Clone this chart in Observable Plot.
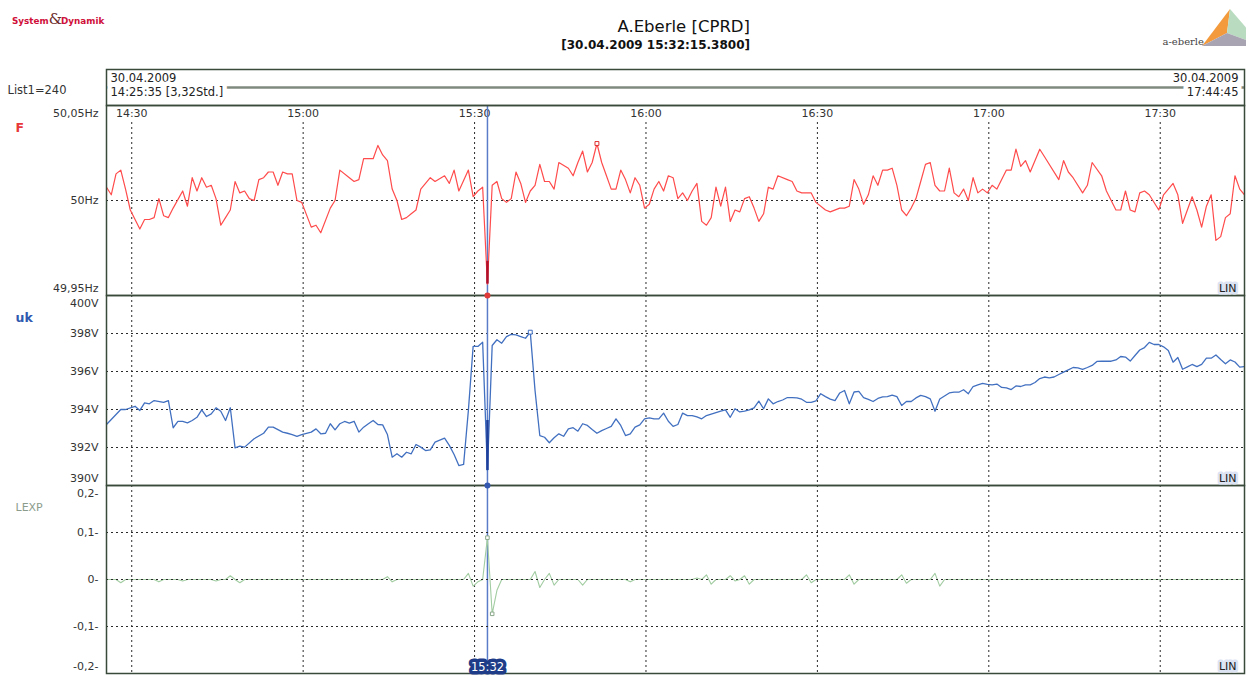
<!DOCTYPE html>
<html>
<head>
<meta charset="utf-8">
<script src="https://cdn.jsdelivr.net/npm/d3@7"></script>
<script src="https://cdn.jsdelivr.net/npm/@observablehq/plot@0.6"></script>
<style>
  body { margin: 0; background: #fff; font-family: "DejaVu Sans", sans-serif; }
  #page { position: relative; width: 1246px; height: 675px; overflow: hidden; background: #fff; }
  #brand { position: absolute; left: 12px; top: 10px; white-space: nowrap; font-weight: bold; font-size: 8.8px; color: #d0103a; }
  #brand .amp { font-family: "DejaVu Serif", serif; font-weight: normal; font-size: 15px; color: #6b2b2b; letter-spacing: -1px; }
  #title { position: absolute; right: 496px; top: 17px; font-size: 16.5px; color: #111; white-space: nowrap; }
  #stamp { position: absolute; right: 496px; top: 38px; font-size: 12px; font-weight: bold; color: #111; white-space: nowrap; }
  #logo { position: absolute; left: 1150px; top: 0; }
  #charts { position: absolute; left: 0; top: 69px; }
  #charts svg { display: block; position: relative; }
</style>
</head>
<body>
<div id="page">
  <div id="brand">System<span class="amp">&amp;</span>Dynamik</div>
  <div id="title"></div>
  <div id="stamp"></div>
  <svg id="logo" width="96" height="56">
    <text x="54" y="45" text-anchor="end" font-family="DejaVu Serif, serif" font-size="10" fill="#444">a-eberle</text>
    <polygon points="80,9 52,46 77,33" fill="#f39a3c"/>
    <polygon points="80,9 77,33 112,46" fill="#b9dcc0"/>
    <polygon points="52,46 77,33 112,46" fill="#a9a4b2"/>
  </svg>
  <div id="charts"></div>
</div>
<script>
// Recording: one sample every 50 s, 240 samples (List1)
const device = "A.Eberle [CPRD]";
const listName = "List1=240";
const recordStart = new Date("2009-04-30T14:25:35Z");
const sampleSeconds = 50;
const sampleCount = 240;
const cursorTime = new Date("2009-04-30T15:32:15.380Z");
const cursorStamp = "30.04.2009 15:32:15.3800";
const timeTicks = ["14:30", "15:00", "15:30", "16:00", "16:30", "17:00", "17:30"];

// F: frequency [Hz] per sample number
const freq = [[0,50.007],[1,50.003],[2,50.014],[3,50.016],[4,50.006],[5,49.995],[7,49.985],[8,49.990],[9,49.990],[10,49.991],[11,50.001],[12,49.992],[13,49.991],[14,49.996],[16,50.005],[17,49.997],[18,50.012],[19,50.005],[20,50.012],[21,50.007],[22,50.008],[23,50.001],[24,49.987],[25,49.991],[26,49.995],[27,50.010],[28,50.004],[29,50.005],[30,50.001],[31,50.000],[32,50.011],[33,50.012],[34,50.015],[35,50.015],[36,50.008],[37,50.015],[38,50.014],[39,50.014],[40,50.000],[41,49.999],[43,49.986],[44,49.987],[45,49.983],[47,49.996],[48,50.000],[49,50.016],[51,50.012],[52,50.010],[53,50.011],[54,50.022],[56,50.022],[57,50.029],[58,50.024],[59,50.021],[60,50.006],[61,50.000],[62,49.990],[63,49.991],[64,49.993],[65,49.995],[66,50.006],[68,50.012],[69,50.010],[71,50.013],[72,50.009],[73,50.016],[74,50.005],[76,50.016],[77,50.002],[78,50.005],[79,50.007],[80,49.956],[81,50.008],[82,50.010],[83,50.001],[84,49.999],[85,50.001],[86,50.015],[87,50.009],[88,49.999],[89,50.005],[90,50.008],[91,50.019],[92,50.010],[93,50.010],[94,50.006],[95,50.020],[97,50.017],[98,50.013],[99,50.020],[100,50.026],[101,50.015],[102,50.020],[103,50.030],[104,50.020],[105,50.013],[106,50.006],[107,50.006],[108,50.016],[109,50.011],[110,50.004],[111,50.012],[112,50.008],[113,49.996],[114,49.998],[115,50.006],[116,50.010],[117,50.005],[118,50.013],[119,50.012],[120,50.001],[121,50.004],[122,50.000],[123,50.005],[124,50.009],[125,49.989],[126,49.987],[127,49.991],[128,50.007],[129,49.997],[130,50.007],[131,49.989],[132,49.995],[133,49.994],[134,50.001],[135,50.002],[136,49.996],[137,49.989],[138,49.993],[139,50.007],[140,50.006],[141,50.013],[143,50.011],[144,50.010],[145,50.005],[146,50.004],[148,50.004],[149,49.999],[151,49.995],[152,49.994],[154,49.996],[155,49.996],[156,49.997],[157,50.011],[158,50.006],[159,49.998],[160,50.003],[161,50.013],[162,50.008],[163,50.016],[164,50.016],[165,50.017],[166,50.008],[167,49.995],[168,49.992],[169,49.996],[170,50.001],[171,50.010],[172,50.019],[173,50.020],[174,50.008],[175,50.005],[176,50.005],[177,50.017],[178,50.004],[179,50.002],[180,50.006],[181,50.000],[182,50.012],[183,50.004],[184,50.006],[185,50.004],[186,50.008],[187,50.006],[188,50.011],[189,50.016],[190,50.016],[191,50.027],[192,50.018],[193,50.021],[194,50.015],[196,50.027],[197,50.023],[200,50.011],[201,50.021],[202,50.015],[203,50.012],[205,50.004],[206,50.008],[207,50.020],[209,50.013],[210,50.005],[212,49.995],[213,49.995],[214,50.005],[215,49.995],[216,49.994],[217,50.004],[218,50.005],[219,50.003],[221,49.995],[222,50.003],[223,50.006],[224,50.009],[225,50.003],[226,49.988],[227,49.995],[228,50.002],[229,49.995],[230,49.986],[231,49.997],[232,50.003],[233,49.979],[234,49.981],[235,49.991],[236,49.993],[237,50.013],[238,50.006],[239,50.003]];
const freqTicks = [49.95, 50, 50.05];
const freqTickLabels = ["49,95Hz", "50Hz", "50,05Hz"];
const freqCursorRange = [49.956, 49.968];

// uk: voltage [V] per sample number
const volt = [[0,393.21],[3,394.0],[4,394.0],[6,394.17],[7,393.95],[8,394.35],[9,394.30],[10,394.47],[12,394.38],[13,394.47],[14,393.04],[15,393.37],[16,393.37],[17,393.30],[18,393.42],[19,393.59],[20,393.98],[21,393.63],[22,393.77],[23,394.09],[24,393.91],[25,393.42],[26,394.09],[27,391.98],[28,392.07],[29,392.02],[31,392.46],[33,392.75],[34,393.07],[35,393.07],[37,392.81],[38,392.75],[39,392.68],[40,392.59],[41,392.68],[43,392.81],[44,392.98],[45,392.72],[46,392.75],[47,393.25],[48,392.93],[49,393.25],[50,393.37],[51,393.28],[52,393.38],[53,392.81],[54,393.07],[55,393.25],[56,393.42],[57,393.21],[58,393.19],[59,392.68],[60,391.49],[61,391.67],[62,391.49],[63,391.75],[64,391.67],[65,392.16],[66,392.02],[67,391.84],[68,391.88],[69,392.28],[71,392.49],[72,392.11],[73,391.63],[74,391.05],[75,391.11],[76,393.95],[77,397.32],[78,397.32],[79,397.54],[80,390.79],[81,397.37],[82,397.67],[83,397.49],[84,397.84],[85,397.95],[86,397.93],[87,397.84],[88,397.75],[89,398.07],[90,395.0],[91,392.63],[92,392.54],[93,392.25],[94,392.51],[95,392.72],[96,392.59],[97,392.98],[98,393.04],[99,392.86],[100,393.25],[101,393.16],[102,392.95],[103,392.75],[104,392.89],[105,393.0],[106,393.11],[107,393.51],[108,393.16],[109,392.63],[110,392.72],[111,393.07],[112,393.19],[113,393.51],[114,393.56],[115,393.51],[116,393.51],[117,393.81],[118,393.38],[119,393.11],[120,393.21],[121,393.81],[122,393.68],[123,393.68],[124,393.61],[125,393.51],[126,393.68],[127,393.76],[128,393.84],[129,393.92],[130,393.98],[131,393.59],[132,394.04],[133,393.87],[134,393.91],[135,393.98],[136,394.09],[137,394.44],[138,394.04],[139,394.56],[140,394.30],[141,394.42],[142,394.50],[143,394.63],[144,394.63],[145,394.61],[146,394.54],[147,394.38],[148,394.38],[149,394.46],[150,394.83],[151,394.68],[152,394.55],[153,394.47],[154,394.87],[155,395.0],[156,394.30],[157,394.92],[158,394.95],[159,394.63],[160,394.53],[161,394.42],[162,394.58],[163,394.66],[164,394.68],[165,394.76],[166,394.68],[167,394.21],[168,394.42],[169,394.42],[170,394.61],[171,394.74],[172,394.68],[173,394.56],[174,393.91],[175,394.55],[176,394.71],[177,394.87],[178,394.91],[179,394.91],[180,395.04],[181,394.83],[182,395.21],[183,395.29],[184,395.37],[185,395.32],[186,395.30],[187,395.34],[188,395.16],[189,395.14],[190,395.05],[191,395.24],[192,395.21],[193,395.30],[194,395.30],[195,395.42],[196,395.63],[197,395.71],[198,395.67],[199,395.71],[200,395.84],[201,395.97],[202,396.09],[203,396.21],[204,396.19],[205,396.11],[206,396.21],[207,396.32],[208,396.53],[209,396.54],[210,396.54],[211,396.54],[212,396.61],[213,396.79],[214,396.76],[215,396.55],[216,396.84],[217,397.13],[218,397.26],[219,397.53],[220,397.42],[221,397.42],[222,397.30],[223,397.11],[224,396.49],[225,396.74],[226,396.12],[227,396.24],[228,396.37],[229,396.26],[230,396.37],[231,396.70],[232,396.70],[233,396.87],[234,396.63],[235,396.41],[236,396.61],[237,396.50],[238,396.23],[239,396.26]];
const voltTicks = [390, 392, 394, 396, 398, 400];
const voltTickLabels = ["390V", "392V", "394V", "396V", "398V", "400V"];
const voltCursorRange = [390.79, 393.42];

// LEXP per sample number (flat at 0 between the listed excursions)
const lexp = [[0,0],[2,0],[3,-0.007],[4,0],[10,0],[11,-0.005],[12,0],[15,0],[16,-0.003],[17,0],[22,0],[23,-0.003],[24,0],[25,0],[26,0.008],[27,0],[28,-0.007],[29,0],[58,0],[59,0.006],[60,-0.005],[61,0],[75,0],[76,0.013],[77,-0.014],[78,-0.005],[79,0],[80,0.089],[81,-0.073],[82,-0.023],[83,0],[89,0],[90,0.017],[91,-0.017],[92,0],[93,0.013],[94,-0.012],[95,0],[99,0],[100,-0.012],[101,0],[109,0],[110,-0.005],[111,0],[123,0],[124,0.003],[125,0],[126,0.010],[127,-0.010],[128,0],[130,0],[131,0.008],[132,-0.003],[133,0],[134,0.008],[135,-0.010],[136,0],[146,0],[147,0.010],[148,-0.007],[149,0],[155,0],[156,0.010],[157,-0.010],[158,0],[166,0],[167,0.010],[168,-0.008],[169,0],[173,0],[174,0.013],[175,-0.014],[176,0],[239,0]];
const lexpTicks = [-0.2, -0.1, 0, 0.1, 0.2];
const lexpTickLabels = ["-0,2-", "-0,1-", "0-", "0,1-", "0,2-"];

// ---- helpers ----
const at = i => new Date(+recordStart + i * sampleSeconds * 1000);
const recordEnd = at(sampleCount - 1);
const tickDates = timeTicks.map(s => new Date(`2009-04-30T${s}:00Z`));
const fmtHM = d3.utcFormat("%H:%M");
const fmtHMS = d3.utcFormat("%H:%M:%S");
const fmtDate = d3.utcFormat("%d.%m.%Y");
const hours = ((recordEnd - recordStart) / 3600000).toFixed(2).replace(".", ",");

document.getElementById("title").textContent = device;
document.getElementById("stamp").textContent = `[${cursorStamp}]`;

const gridColor = "#2a2a2a";
const dash = "2,3";
const frameColor = "#3a4a3a";
const cursorColor = "#5a7cc8";

const base = {
  width: 1246,
  marginLeft: 106,
  marginRight: 2,
  marginTop: 0,
  marginBottom: 0,
  x: {type: "utc", domain: [recordStart, recordEnd], axis: null},
  style: {background: "transparent", overflow: "visible", fontFamily: "DejaVu Sans, sans-serif", fontSize: "11px", color: "#333"}
};

function yLabels(ticks, labels) {
  const lo = d3.min(ticks), hi = d3.max(ticks);
  return ticks.map((t, i) => Plot.text([t], {
    y: d => d, text: () => labels[i],
    frameAnchor: "left", textAnchor: "end", lineAnchor: "middle",
    dx: -8, dy: t === hi ? 8 : t === lo ? -7 : 0, fill: "#333"
  }));
}
function seriesName(name, color, bold) {
  return Plot.text([name], {frameAnchor: "top-left", textAnchor: "start", lineAnchor: "middle",
    dx: -91, dy: 22, fill: color, fontWeight: bold ? "bold" : "normal", fontSize: bold ? 12.5 : 11});
}
function linBox() {
  return Plot.text(["LIN"], {frameAnchor: "bottom-right", textAnchor: "end", lineAnchor: "middle",
    dx: -8, dy: -7, fill: "#222", stroke: "#dce3f3", strokeWidth: 5, fontSize: 11});
}
const series = arr => arr.map(([i, v]) => ({t: at(i), v}));

const F = series(freq), U = series(volt), L = series(lexp);

// ---- header strip with recording range ----
const header = Plot.plot({
  ...base, height: 36,
  y: {domain: [0, 1], axis: null},
  marks: [
    Plot.ruleY([0.5], {stroke: "#7f8a7f", strokeWidth: 2.5}),
    Plot.text([recordStart], {frameAnchor: "top-left", textAnchor: "start", lineAnchor: "middle", dx: 4, dy: 9, text: d => fmtDate(d), fill: "#222", fontSize: 11.5}),
    Plot.text([recordStart], {frameAnchor: "top-left", textAnchor: "start", lineAnchor: "middle", dx: 4, dy: 23, text: d => `${fmtHMS(d)} [${hours}Std.]`, fill: "#222", stroke: "white", strokeWidth: 9, fontSize: 11.5}),
    Plot.text([recordEnd], {frameAnchor: "top-right", textAnchor: "end", lineAnchor: "middle", dx: -6, dy: 9, text: d => fmtDate(d), fill: "#222", fontSize: 11.5}),
    Plot.text([recordEnd], {frameAnchor: "top-right", textAnchor: "end", lineAnchor: "middle", dx: -6, dy: 23, text: d => fmtHMS(d), fill: "#222", stroke: "white", strokeWidth: 9, fontSize: 11.5}),
    Plot.text([listName], {frameAnchor: "left", textAnchor: "start", lineAnchor: "middle", dx: -99, dy: 3, fill: "#333", fontSize: 11.5}),
    Plot.frame({stroke: frameColor, strokeWidth: 1.5})
  ]
});

// ---- F panel ----
const fMax = d3.greatest(F, d => d.v);
const panelF = Plot.plot({
  ...base, height: 190,
  y: {domain: [49.95, 50.05], axis: null},
  marks: [
    Plot.ruleY([50], {stroke: gridColor, strokeDasharray: dash}),
    Plot.ruleX(tickDates, {stroke: gridColor, strokeDasharray: dash, insetTop: 17}),
    Plot.text(tickDates, {x: d => d, text: d => fmtHM(d), frameAnchor: "top", lineAnchor: "middle", dy: 8, fill: "#333"}),
    Plot.ruleX([cursorTime], {stroke: cursorColor, strokeWidth: 1.5}),
    Plot.line(F, {x: "t", y: "v", stroke: "#ff4b4b", strokeWidth: 1.2, clip: true}),
    Plot.ruleX([cursorTime], {y1: freqCursorRange[0], y2: freqCursorRange[1], stroke: "#b0102a", strokeWidth: 2.5}),
    Plot.dot([fMax], {x: "t", y: "v", symbol: "square", r: 2.2, stroke: "#e03030", fill: "white", strokeWidth: 1}),
    Plot.frame({stroke: frameColor, strokeWidth: 1.5}),
    Plot.dot([cursorTime], {x: d => d, y: () => 49.95, r: 3, fill: "#e03a3a"}),
    ...yLabels(freqTicks, freqTickLabels),
    seriesName("F", "#e8383a", true),
    linBox()
  ]
});

// ---- uk panel ----
const uMax = d3.greatest(U, d => d.v);
const panelU = Plot.plot({
  ...base, height: 190,
  y: {domain: [390, 400], axis: null},
  marks: [
    Plot.ruleY(voltTicks.slice(1, -1), {stroke: gridColor, strokeDasharray: dash}),
    Plot.ruleX(tickDates, {stroke: gridColor, strokeDasharray: dash}),
    Plot.ruleX([cursorTime], {stroke: cursorColor, strokeWidth: 1.5}),
    Plot.line(U, {x: "t", y: "v", stroke: "#4270c0", strokeWidth: 1.3, clip: true}),
    Plot.ruleX([cursorTime], {y1: voltCursorRange[0], y2: voltCursorRange[1], stroke: "#1e3f9a", strokeWidth: 2.5}),
    Plot.dot([uMax], {x: "t", y: "v", symbol: "square", r: 2.2, stroke: "#3d6cc0", fill: "white", strokeWidth: 1}),
    Plot.frame({stroke: frameColor, strokeWidth: 1.5}),
    Plot.dot([cursorTime], {x: d => d, y: () => 390, r: 3, fill: "#3558b0"}),
    ...yLabels(voltTicks, voltTickLabels),
    seriesName("uk", "#2f5ab0", true),
    linBox()
  ]
});

// ---- LEXP panel ----
const lMax = d3.greatest(L, d => d.v), lMin = d3.least(L, d => d.v);
const panelL = Plot.plot({
  ...base, height: 188,
  y: {domain: [-0.2, 0.2], axis: null},
  marks: [
    Plot.ruleX(tickDates, {stroke: gridColor, strokeDasharray: dash}),
    Plot.ruleX([cursorTime], {stroke: cursorColor, strokeWidth: 1.5}),
    Plot.line(L, {x: "t", y: "v", stroke: "#a2cca2", strokeWidth: 1.1, clip: true}),
    Plot.ruleY(lexpTicks.slice(1, -1), {stroke: gridColor, strokeDasharray: dash}),
    Plot.dot([lMax, lMin], {x: "t", y: "v", symbol: "square", r: 2, stroke: "#8aa88a", fill: "white", strokeWidth: 1}),
    Plot.frame({stroke: frameColor, strokeWidth: 1.5}),
    Plot.text([cursorTime], {x: d => d, text: d => fmtHM(d), frameAnchor: "bottom", lineAnchor: "middle", dy: -6.5, fill: "white", stroke: "#1f3c88", strokeWidth: 7, fontSize: 11.5}),
    ...yLabels(lexpTicks, lexpTickLabels),
    seriesName("LEXP", "#8c9c8c", false),
    linBox()
  ]
});

const charts = document.getElementById("charts");
[header, panelF, panelU, panelL].forEach((svg, k) => {
  svg.style.zIndex = String(10 - k);
  charts.appendChild(svg);
});
</script>
</body>
</html>
